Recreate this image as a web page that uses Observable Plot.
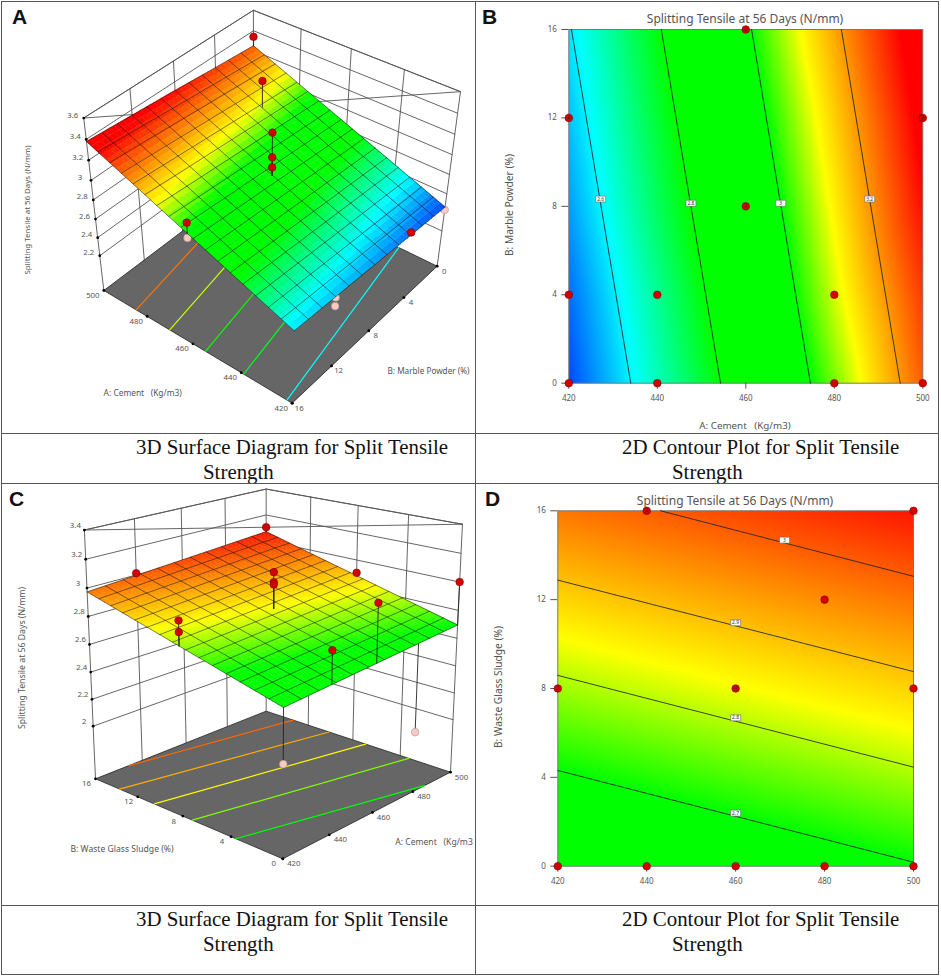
<!DOCTYPE html>
<html>
<head>
<meta charset="utf-8">
<script src="https://cdn.jsdelivr.net/npm/d3@7"></script>
<script src="https://cdn.jsdelivr.net/npm/@observablehq/plot@0.6"></script>
<style>
  html, body { margin: 0; background: white; }
  #page { position: relative; width: 941px; height: 977px; overflow: hidden; }
  #left { position: absolute; left: 0; top: 0; width: 475px; height: 977px; overflow: hidden; }
  .note { position: absolute; white-space: pre; line-height: 1; color: #555; font-family: "Noto Sans", sans-serif; transform: translate(-50%, -50%); }
  .letter { position: absolute; font: bold 21px "Liberation Sans", sans-serif; color: #111; }
  .caption { position: absolute; white-space: pre; font: 20.9px/25px "Liberation Serif", serif; color: #111; }
  .rule { position: absolute; background: #555; }
</style>
</head>
<body>
<div id="page"><div id="left"></div></div>
<script>
// axis values
const cementTicks = [420, 440, 460, 480, 500]
const percentTicks = [0, 4, 8, 12, 16]
const marbleZTicks = [2.2, 2.4, 2.6, 2.8, 3, 3.2, 3.4, 3.6]
const sludgeZTicks = [2, 2.2, 2.4, 2.6, 2.8, 3, 3.2, 3.4]

// response, one row per percent tick, one column per cement tick
const marbleZ0 = [2.46, 2.66, 2.855, 3.05, 3.25]
const marbleZ4 = [2.49, 2.69, 2.89, 3.09, 3.28]
const marbleZ8 = [2.53, 2.73, 2.92, 3.12, 3.32]
const marbleZ12 = [2.56, 2.76, 2.955, 3.15, 3.35]
const marbleZ16 = [2.59, 2.79, 2.99, 3.185, 3.38]
const marbleZ = [marbleZ0, marbleZ4, marbleZ8, marbleZ12, marbleZ16]

const sludgeZ0 = [2.6, 2.624, 2.648, 2.672, 2.696]
const sludgeZ4 = [2.693, 2.717, 2.741, 2.765, 2.79]
const sludgeZ8 = [2.787, 2.811, 2.835, 2.859, 2.883]
const sludgeZ12 = [2.88, 2.904, 2.928, 2.952, 2.976]
const sludgeZ16 = [2.973, 2.997, 3.021, 3.045, 3.07]
const sludgeZ = [sludgeZ0, sludgeZ4, sludgeZ8, sludgeZ12, sludgeZ16]

// design points
const marbleDotA = [420, 440, 480, 500, 420, 440, 480, 460, 420, 500, 460]
const marbleDotB = [0, 0, 0, 0, 4, 4, 4, 8, 12, 12, 16]
const sludgeDotA = [420, 440, 460, 480, 500, 420, 460, 500, 480, 440, 500]
const sludgeDotB = [0, 0, 0, 0, 0, 8, 8, 8, 12, 16, 16]

// points seen in the 3D views
const marble3dA = [500, 480, 460, 460, 460, 460, 460, 420, 420, 420, 420]
const marble3dB = [0, 4, 8, 8, 8, 16, 16, 4, 0, 12, 12]
const marble3dZ = [3.34, 3.35, 3.34, 3.1, 3.0, 3.09, 2.94, 2.52, 2.43, 2.55, 2.46]
const sludge3dA = [500, 440, 460, 460, 460, 420, 420, 500, 460, 440, 500, 420, 480]
const sludge3dB = [16, 16, 8, 8, 8, 8, 8, 8, 0, 0, 0, 0, 0]
const sludge3dZ = [3.105, 3.013, 3.09, 3.02, 3.004, 2.956, 2.879, 2.905, 3.05, 2.847, 3.0, 2.235, 2.04]

// contour lines, as their two ends
const marbleLevels = ["2.6", "2.8", "3", "3.2"]
const marbleLineA0 = [434, 454.3, 474.6, 494.9]
const marbleLineA16 = [420.6, 440.9, 461.3, 481.6]
const marbleLabelA = [427.2, 447.6, 467.9, 488]
const marbleLabelB = [8.33, 8.14, 8.14, 8.33]

const sludgeLevels = ["2.7", "2.8", "2.9", "3"]
const sludgeLineA1 = [420, 420, 420, 443.1]
const sludgeLineB1 = [4.31, 8.59, 12.88, 16]
const sludgeLineA2 = [500, 500, 500, 500]
const sludgeLineB2 = [0.18, 4.46, 8.76, 13.05]
const sludgeLabelA = [460, 460, 460, 471]
const sludgeLabelB = [2.39, 6.68, 10.96, 14.68]

// contour lines on the floor of the 3D views
const marbleFloorLevel = [2.61, 2.78, 2.93, 3.085, 3.23]
const marbleFloorA16 = [422, 439, 454.7, 470, 485]
const marbleFloorA0 = [435.5, 452.5, 468, 483.5, 498.5]
const sludgeFloorLevel = [2.685, 2.77, 2.845, 2.92, 2.99]
const sludgeFloorA1 = [420, 420, 420, 420, 434]
const sludgeFloorB1 = [3.63, 7.2, 10.5, 13.7, 16]
const sludgeFloorA2 = [486, 500, 500, 500, 500]
const sludgeFloorB2 = [0, 3.3, 6.9, 10.1, 13.4]

// colour ramps
const marbleColor = {type: "linear", interpolate: "rgb", clamp: true,
  domain: [2.46, 2.61, 2.8, 3.0, 3.11, 3.33],
  range: ["#0048ff", "#00ffff", "#00ff00", "#00ff00", "#ffff00", "#ff0000"]}
const sludgeColor = {type: "linear", interpolate: "rgb", clamp: true,
  domain: [2.6, 2.7, 2.84, 3.09],
  range: ["#00ff00", "#00ff00", "#ffff00", "#ff0000"]}

const page = document.getElementById("page")
const left = document.getElementById("left")

function surfaceAt(grid, a, b) {
  const i = Math.min(3, Math.floor((a - 420) / 20)), j = Math.min(3, Math.floor(b / 4))
  const s = (a - 420) / 20 - i, t = b / 4 - j
  return (1 - t) * ((1 - s) * grid[j][i] + s * grid[j][i + 1]) + t * ((1 - s) * grid[j + 1][i] + s * grid[j + 1][i + 1])
}

function projector(cam, zMin, zMax) {
  return (a, b, z) => {
    const p = [(a - 420) / 80, b / 16, (z - zMin) / (zMax - zMin), 1]
    const w = d3.sum(cam.w, (c, i) => c * p[i])
    return {x: d3.sum(cam.x, (c, i) => c * p[i]) / w, y: d3.sum(cam.y, (c, i) => c * p[i]) / w}
  }
}

function panel3d(o) {
  const proj = projector(o.cam, o.zMin, o.zMax)
  const path = (pts, id, extra) => pts.map(([a, b, z]) => ({...proj(a, b, z), id, ...extra}))
  const [c0, c1, c2] = o.wall

  // wall grid
  const wall = []
  ;[...o.zTicks, o.zMax].forEach(z => wall.push(...path([[...c0, z], [...c1, z], [...c2, z]], "z" + z)))
  o.wallTicks.concat([c0, c1, c2]).forEach(([a, b], i) =>
    wall.push(...path([[a, b, o.zMin], [a, b, o.zMax]], "v" + i)))

  const floor = path([[420, 0, o.zMin], [500, 0, o.zMin], [500, 16, o.zMin], [420, 16, o.zMin], [420, 0, o.zMin]], "floor")
  const floorLines = o.floor.flatMap(([a1, b1, a2, b2, level], i) =>
    path([[a1, b1, o.zMin], [a2, b2, o.zMin]], i, {level}))

  // surface cells, split finer than the printed mesh so the colour runs smoothly
  const m = 40
  const cells = [], mesh = []
  for (let i = 0; i < m; i++) for (let j = 0; j < m; j++) {
    const a0 = 420 + 80 * i / m, a1 = 420 + 80 * (i + 1) / m
    const b0 = 16 * j / m, b1 = 16 * (j + 1) / m
    const level = surfaceAt(o.grid, (a0 + a1) / 2, (b0 + b1) / 2)
    cells.push(...[[a0, b0], [a1, b0], [a1, b1], [a0, b1]].map(([a, b]) =>
      ({...proj(a, b, surfaceAt(o.grid, a, b)), id: i + "-" + j, level})))
  }
  const [nA, nB] = o.meshCells
  for (let i = 0; i <= nA; i++) {
    const a = 420 + 80 * i / nA
    mesh.push(...[0, 16].map(b => ({...proj(a, b, surfaceAt(o.grid, a, b)), id: "a" + i})))
  }
  for (let j = 0; j <= nB; j++) {
    const b = 16 * j / nB
    mesh.push(...[420, 500].map(a => ({...proj(a, b, surfaceAt(o.grid, a, b)), id: "b" + j})))
  }

  // design points, above or below the surface
  const dots = o.dotA.map((a, i) => {
    const b = o.dotB[i], z = o.dotZ[i], s = surfaceAt(o.grid, a, b)
    return {...proj(a, b, z), above: z >= s, stem: [proj(a, b, z), proj(a, b, s)]}
  })
  const stems = above => dots.filter(d => d.above === above).flatMap((d, i) => d.stem.map(p => ({...p, id: i})))

  const tickDots = [
    ...o.zTicks.map(z => ({...proj(...c0, z), text: String(z), kind: "z"})),
    ...cementTicks.map(a => ({...proj(a, o.cementEdge, o.zMin), text: String(a), kind: "a"})),
    ...percentTicks.map(b => ({...proj(420, b, o.zMin), text: String(b), kind: "b"}))
  ]
  const tickText = kind => Plot.text(tickDots.filter(d => d.kind === kind), {
    x: "x", y: "y", text: "text", fontSize: 7.8, fill: "#555", dx: o.labelOffset[kind][0], dy: o.labelOffset[kind][1]
  })

  const chart = Plot.plot({
    width: o.width, height: o.height,
    marginTop: 0, marginRight: 0, marginBottom: 0, marginLeft: 0,
    x: {domain: [0, o.width * 3], range: [0, o.width], axis: null},
    y: {domain: [0, o.height * 3], range: [0, o.height], axis: null},
    color: o.color,
    style: {background: "transparent", fontFamily: "Noto Sans"},
    marks: [
      Plot.line(wall, {x: "x", y: "y", z: "id", stroke: "#555", strokeWidth: 0.9}),
      Plot.line(floor, {x: "x", y: "y", fill: "#666", stroke: "#222", strokeWidth: 0.8}),
      Plot.line(floorLines, {x: "x", y: "y", z: "id", stroke: "level", strokeWidth: 1.2}),
      Plot.dot(tickDots, {x: "x", y: "y", r: 1.4, fill: "#000"}),
      tickText("z"), tickText("a"), tickText("b"),
      Plot.line(stems(false), {x: "x", y: "y", z: "id", stroke: "#222", strokeWidth: 0.9}),
      Plot.dot(dots.filter(d => !d.above), {x: "x", y: "y", r: 3.8, fill: "#ffc9c2", stroke: "#999", strokeWidth: 0.6}),
      Plot.line(cells, {x: "x", y: "y", z: "id", fill: "level", stroke: "level", strokeWidth: 0.5}),
      Plot.line(mesh, {x: "x", y: "y", z: "id", stroke: "#111", strokeWidth: 0.7, strokeOpacity: 0.75}),
      Plot.line(stems(true), {x: "x", y: "y", z: "id", stroke: "#222", strokeWidth: 0.9}),
      Plot.dot(dots.filter(d => d.above), {x: "x", y: "y", r: 3.8, fill: "#d40000", stroke: "#7a0000", strokeWidth: 0.6})
    ]
  })
  chart.style.position = "absolute"
  chart.style.left = "0px"
  chart.style.top = o.top + "px"
  left.appendChild(chart)
}

function panel2d(o) {
  const field = o.grid.flatMap((row, j) => row.map((z, i) => ({a: cementTicks[i], b: percentTicks[j], z})))
  const lines = o.levels.flatMap((level, i) => [
    {a: o.lineA1[i], b: o.lineB1[i], level}, {a: o.lineA2[i], b: o.lineB2[i], level}
  ])
  const labels = o.levels.map((level, i) => ({a: o.labelA[i], b: o.labelB[i], level}))
  const dots = o.dotA.map((a, i) => ({a, b: o.dotB[i]}))
  const box = {draw(ctx) { ctx.rect(-5, -3, 10, 6) }}

  const chart = Plot.plot({
    width: 471, height: o.height,
    marginLeft: o.frame[0], marginRight: 471 - o.frame[1],
    marginTop: o.frame[2], marginBottom: o.height - o.frame[3],
    x: {domain: [420, 500]},
    y: {domain: [0, 16]},
    color: o.color,
    style: {background: "transparent", color: "#555", fontFamily: "Noto Sans", overflow: "visible"},
    marks: [
      Plot.raster(field, {x: "a", y: "b", fill: "z", interpolate: "barycentric", pixelSize: 1}),
      Plot.frame({stroke: "#777"}),
      Plot.line(lines, {x: "a", y: "b", z: "level", stroke: "#222", strokeWidth: 1, strokeOpacity: 0.85}),
      Plot.dot(labels, {x: "a", y: "b", symbol: box, fill: "white", stroke: "#666", strokeWidth: 0.6}),
      Plot.text(labels, {x: "a", y: "b", text: "level", fontSize: 5, fill: "#333"}),
      Plot.axisX({ticks: cementTicks, tickSize: 6, tickPadding: 6, fontSize: 8, label: null}),
      Plot.axisY({ticks: percentTicks, tickSize: 7, tickPadding: 5, fontSize: 8, label: null}),
      Plot.dot(dots, {x: "a", y: "b", r: 3.8, fill: "#d40000", stroke: "#7a0000", strokeWidth: 0.6}),
      Plot.text(o.counts, {x: "a", y: "b", text: "n", dx: "dx", dy: "dy", fontSize: 5, fill: "#333"})
    ]
  })
  chart.style.position = "absolute"
  chart.style.left = "470px"
  chart.style.top = o.top + "px"
  page.appendChild(chart)
}

panel3d({
  top: 0, width: 475, height: 432, grid: marbleZ, color: marbleColor,
  zMin: 1.8, zMax: 3.6, zTicks: marbleZTicks, meshCells: [17, 12],
  cam: {x: [-472.6, -529.2, -88.7, 1310], y: [-213, 281, -555, 797], w: [0.1018, -0.1076, -0.115, 1]},
  wall: [[500, 16], [500, 0], [420, 0]],
  wallTicks: [[500, 4], [500, 8], [500, 12], [440, 0], [460, 0], [480, 0]],
  cementEdge: 16,
  labelOffset: {z: [-11, -3], a: [-11, 5], b: [7, 5]},
  floor: marbleFloorLevel.map((l, i) => [marbleFloorA16[i], 16, marbleFloorA0[i], 0, l]),
  dotA: marble3dA, dotB: marble3dB, dotZ: marble3dZ
})

panel3d({
  top: 485, width: 475, height: 420, grid: sludgeZ, color: sludgeColor,
  zMin: 1.6, zMax: 3.4, zTicks: sludgeZTicks, meshCells: [11, 15],
  cam: {x: [706.3, -520.7, -55.8, 847], y: [-130.5, -112.4, -864, 1120], w: [0.15057, 0.14505, -0.07, 1]},
  wall: [[420, 16], [500, 16], [500, 0]],
  wallTicks: [[440, 16], [460, 16], [480, 16], [500, 4], [500, 8], [500, 12]],
  cementEdge: 0,
  labelOffset: {z: [-9, -5], a: [11, 5], b: [-9, 5]},
  floor: sludgeFloorLevel.map((l, i) => [sludgeFloorA1[i], sludgeFloorB1[i], sludgeFloorA2[i], sludgeFloorB2[i], l]),
  dotA: sludge3dA, dotB: sludge3dB, dotZ: sludge3dZ
})

panel2d({
  top: 0, height: 433, frame: [98.3, 452.3, 29, 382.7], grid: marbleZ, color: marbleColor,
  levels: marbleLevels, lineA1: marbleLineA0, lineB1: [0, 0, 0, 0], lineA2: marbleLineA16, lineB2: [16, 16, 16, 16],
  labelA: marbleLabelA, labelB: marbleLabelB, dotA: marbleDotA, dotB: marbleDotB,
  counts: [
    {a: 460, b: 16, n: "2", dx: 0, dy: 8},
    {a: 420, b: 12, n: "2", dx: 7, dy: 3},
    {a: 460, b: 8, n: "3", dx: -8, dy: 0},
    {a: 500, b: 12, n: "2", dx: -8, dy: 0}
  ]
})

panel2d({
  top: 485, height: 420, frame: [87.3, 443, 25.3, 380.7], grid: sludgeZ, color: sludgeColor,
  levels: sludgeLevels, lineA1: sludgeLineA1, lineB1: sludgeLineB1, lineA2: sludgeLineA2, lineB2: sludgeLineB2,
  labelA: sludgeLabelA, labelB: sludgeLabelB, dotA: sludgeDotA, dotB: sludgeDotB,
  counts: [
    {a: 440, b: 16, n: "2", dx: 3, dy: 7},
    {a: 420, b: 8, n: "2", dx: 8, dy: 0},
    {a: 460, b: 8, n: "4", dx: -8, dy: 0}
  ]
})

// text around the plots
function note(parent, text, x, y, size, rotate) {
  const el = document.createElement("div")
  el.className = "note"
  el.textContent = text
  el.style.left = x + "px"
  el.style.top = y + "px"
  el.style.fontSize = size + "px"
  if (rotate) el.style.transform = "translate(-50%, -50%) rotate(-90deg)"
  parent.appendChild(el)
}
function placed(cls, text, x, y) {
  const el = document.createElement("div")
  el.className = cls
  el.textContent = text
  el.style.left = x + "px"
  el.style.top = y + "px"
  page.appendChild(el)
}
function rule(x, y, w, h) {
  const el = document.createElement("div")
  el.className = "rule"
  el.style.cssText = `left:${x}px;top:${y}px;width:${w}px;height:${h}px`
  page.appendChild(el)
}

const titleText = "Splitting Tensile at 56 Days (N/mm)"
note(left, titleText, 28, 210, 7.9, true)
note(left, "A: Cement   (Kg/m3)", 142.7, 393, 8.4)
note(left, "B: Marble Powder (%)", 428.5, 371, 8.2)
note(left, titleText, 22, 658, 8.7, true)
note(left, "B: Waste Glass Sludge (%)", 122, 849, 8.6)
note(left, "A: Cement   (Kg/m3", 434, 842.3, 8.6)

note(page, titleText, 745, 19, 12)
note(page, "A: Cement   (Kg/m3)", 745, 425.7, 9.8)
note(page, "B: Marble Powder (%)", 509.3, 205, 10.2, true)
note(page, titleText, 735, 500.7, 12)
note(page, "B: Waste Glass Sludge (%)", 498, 686.7, 10.2, true)

placed("letter", "A", 12, 5)
placed("letter", "B", 482, 5)
placed("letter", "C", 9, 487)
placed("letter", "D", 485, 487)

placed("caption", "3D Surface Diagram for Split Tensile", 136, 435)
placed("caption", "Strength", 203, 460)
placed("caption", "2D Contour Plot for Split Tensile", 622, 435)
placed("caption", "Strength", 672, 460)
placed("caption", "3D Surface Diagram for Split Tensile", 136, 907)
placed("caption", "Strength", 203, 932)
placed("caption", "2D Contour Plot for Split Tensile", 622, 907)
placed("caption", "Strength", 672, 932)

rule(1, 1, 938, 1.3)
rule(1, 432.5, 938, 1.3)
rule(1, 482.5, 938, 1.5)
rule(1, 905, 938, 1.3)
rule(1, 974, 938, 1.3)
rule(1, 1, 1.3, 974)
rule(475, 1, 1.3, 974)
rule(938, 1, 1.3, 974)
</script>
</body>
</html>
